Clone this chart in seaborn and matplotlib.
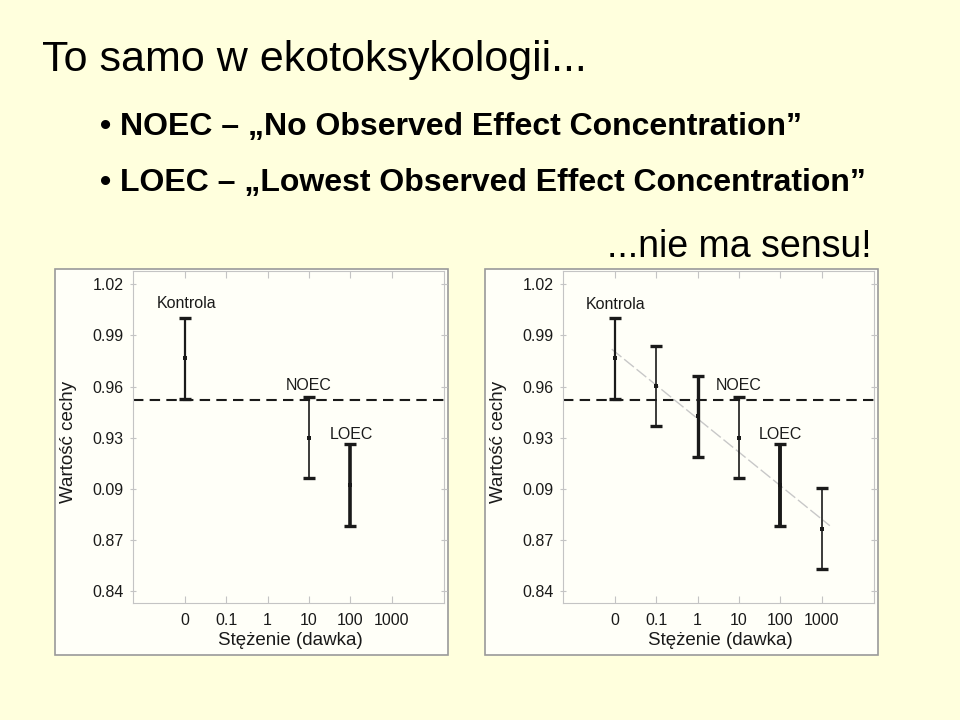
import numpy as np
import pandas as pd
import matplotlib.pyplot as plt
import seaborn as sns
from matplotlib.patches import Rectangle

# ── data ────────────────────────────────────────────────────
dose_labels = ['0', '0.1', '1', '10', '100', '1000']
ytick_vals = [1.02, 0.99, 0.96, 0.93, 0.90, 0.87, 0.84]
ytick_labels = ['1.02', '0.99', '0.96', '0.93', '0.09', '0.87', '0.84']

# left panel: control, NOEC, LOEC only
left_pos = [0, 3, 4]
left_mean = [0.9765, 0.9300, 0.9020]
left_low = [0.9527, 0.9063, 0.8782]
left_high = [1.0001, 0.9537, 0.9262]
left_lw = [1.6, 1.2, 2.6]

# right panel: all six doses
right_pos = [0, 1, 2, 3, 4, 5]
right_mean = [0.9765, 0.9603, 0.9426, 0.9298, 0.9020, 0.8767]
right_low = [0.9527, 0.9366, 0.9188, 0.9061, 0.8782, 0.8527]
right_high = [1.0001, 0.9837, 0.9664, 0.9537, 0.9262, 0.9005]
right_lw = [1.6, 1.2, 2.4, 1.2, 2.8, 1.2]

threshold = 0.9523

BG = '#FFFFDD'
PANEL = '#FFFFF8'
INK = '#1a1a1a'
GRID = '#c4c4c4'

sns.set_theme(style='white')
plt.rcParams['font.family'] = ['Liberation Sans', 'DejaVu Sans']

fig = plt.figure(figsize=(9.6, 7.2), dpi=100, facecolor=BG)

# ── slide text ──────────────────────────────────────────────
fig.text(42 / 960, 1 - 60 / 720, 'To samo w ekotoksykologii...',
         fontsize=31, va='center', ha='left', color='black')
fig.text(100 / 960, 1 - 127 / 720,
         '\u2022 NOEC \u2013 \u201eNo Observed Effect Concentration\u201d',
         fontsize=23, weight='bold', va='center', color='black')
fig.text(100 / 960, 1 - 183 / 720,
         '\u2022 LOEC \u2013 \u201eLowest Observed Effect Concentration\u201d',
         fontsize=23, weight='bold', va='center', color='black')
fig.text(872 / 960, 1 - 247 / 720, '...nie ma sensu!',
         fontsize=27, ha='right', va='center', color='black')

# ── panel frames (behind the axes) ──────────────────────────
for fx in [55, 485]:
    fig.patches.append(Rectangle((fx / 960, 1 - 655 / 720), 393 / 960, 386 / 720,
                                 transform=fig.transFigure, facecolor=PANEL,
                                 edgecolor='#9a9a9a', lw=1.2, zorder=-5))


def draw_panel(ax, pos, mean, low, high, lws, labels, trend=False):
    ax.set_facecolor(PANEL)
    if trend:
        coef = np.polyfit(pos, mean, 1)
        xs = np.array([-0.08, 5.2])
        ax.plot(xs, np.polyval(coef, xs), color='#c8c8c8', lw=1.0,
                dashes=(9, 2.5), zorder=1)
    ax.axhline(threshold, color=INK, lw=1.5, dashes=(5, 3.0), zorder=2)
    for x, m, lo, hi, lw in zip(pos, mean, low, high, lws):
        ax.errorbar(x, m, yerr=[[m - lo], [hi - m]], fmt='none', ecolor=INK,
                    elinewidth=lw, capsize=4, capthick=2.4, zorder=3)
    df = pd.DataFrame({'pos': pos, 'mean': mean})
    sns.scatterplot(data=df, x='pos', y='mean', marker='s', s=7, color=INK,
                    linewidth=0, ax=ax, zorder=4)
    for txt, x, y in labels:
        ax.text(x, y, txt, ha='center', va='center', fontsize=11.5, color=INK)

    ax.set_xlim(-1.26, 6.27)
    ax.set_ylim(0.833, 1.0278)
    ax.set_xticks(range(len(dose_labels)))
    ax.set_xticklabels(dose_labels)
    ax.set_yticks(ytick_vals)
    ax.set_yticklabels(ytick_labels)
    ax.tick_params(axis='both', labelsize=11.5, colors=GRID, labelcolor=INK,
                   direction='in', length=5, width=0.8,
                   top=True, right=True, bottom=True, left=True)
    ax.tick_params(axis='y', which='both', left=True, direction='inout', pad=4)
    ax.tick_params(axis='x', pad=7)
    for s in ax.spines.values():
        s.set_color(GRID)
        s.set_linewidth(0.8)
    ax.set_xlabel('St\u0119\u017cenie (dawka)', fontsize=13.5, color=INK)
    ax.set_ylabel('Warto\u015b\u0107 cechy', fontsize=13.5, color=INK)
    ax.xaxis.set_label_coords(0.505, -0.088)
    ax.yaxis.set_label_coords(-0.18, 0.486)


ax1 = fig.add_axes([133 / 960, 1 - 603 / 720, 311 / 960, 332 / 720])
draw_panel(ax1, left_pos, left_mean, left_low, left_high, left_lw,
           [('Kontrola', 0.04, 1.0085), ('NOEC', 3.0, 0.9605), ('LOEC', 4.04, 0.932)])

ax2 = fig.add_axes([563 / 960, 1 - 603 / 720, 311 / 960, 332 / 720])
draw_panel(ax2, right_pos, right_mean, right_low, right_high, right_lw,
           [('Kontrola', 0.02, 1.0083), ('NOEC', 3.0, 0.9605), ('LOEC', 4.0, 0.932)],
           trend=True)

fig.savefig('out.png', dpi=100, facecolor=BG)
